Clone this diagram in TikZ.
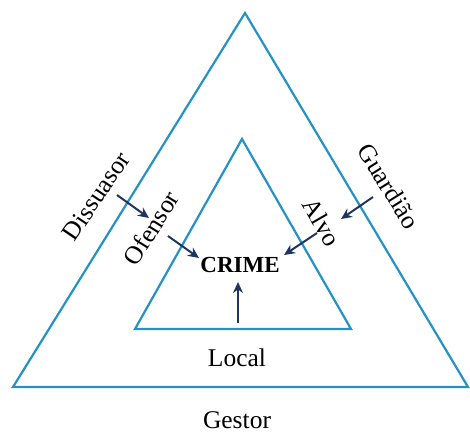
\documentclass[tikz,border=0pt]{standalone}
\usepackage{fontspec}
\setmainfont{Liberation Serif}
\usetikzlibrary{arrows.meta}
\definecolor{tri}{RGB}{36,146,196}
\definecolor{arr}{RGB}{31,52,96}
\begin{document}
\begin{tikzpicture}[x=1pt,y=-1pt,
  tri/.style={draw=tri,line width=2.2pt,line join=miter},
  lab/.style={font=\fontsize{25.5}{30}\selectfont,inner sep=0pt},
  arw/.style={draw=arr,line width=2pt,-{Stealth[length=11pt,width=10pt]}}]
\useasboundingbox (0,0) rectangle (470,434);
\draw[tri] (245,13) -- (13,387) -- (468,387) -- cycle;
\draw[tri] (242,139) -- (135,329) -- (351,329) -- cycle;
\node[font=\bfseries\fontsize{23}{27}\selectfont,inner sep=0pt] (crime) at (240,265) {CRIME};
\node[lab] (local) at (237,358) {Local};
\node[lab] (gestor) at (237,420) {Gestor};
\node[lab,rotate=56] (diss) at (96,196) {Dissuasor};
\node[lab,rotate=58] (ofen) at (151,228) {Ofensor};
\node[lab,rotate=-58] (guard) at (389,186) {Guardião};
\node[lab,rotate=-60] (alvo) at (322,222) {Alvo};
\coordinate (d1) at (117,195); \coordinate (d2) at (149,218);
\coordinate (o1) at (168,236); \coordinate (o2) at (199,258);
\coordinate (g1) at (373,197); \coordinate (g2) at (341,219);
\coordinate (a1) at (317,233); \coordinate (a2) at (284,255);
\coordinate (l1) at (238,323); \coordinate (l2) at (238,282);
\draw[arw] (d1) -- (d2);
\draw[arw] (o1) -- (o2);
\draw[arw] (g1) -- (g2);
\draw[arw] (a1) -- (a2);
\draw[arw] (l1) -- (l2);
\end{tikzpicture}
\end{document}
